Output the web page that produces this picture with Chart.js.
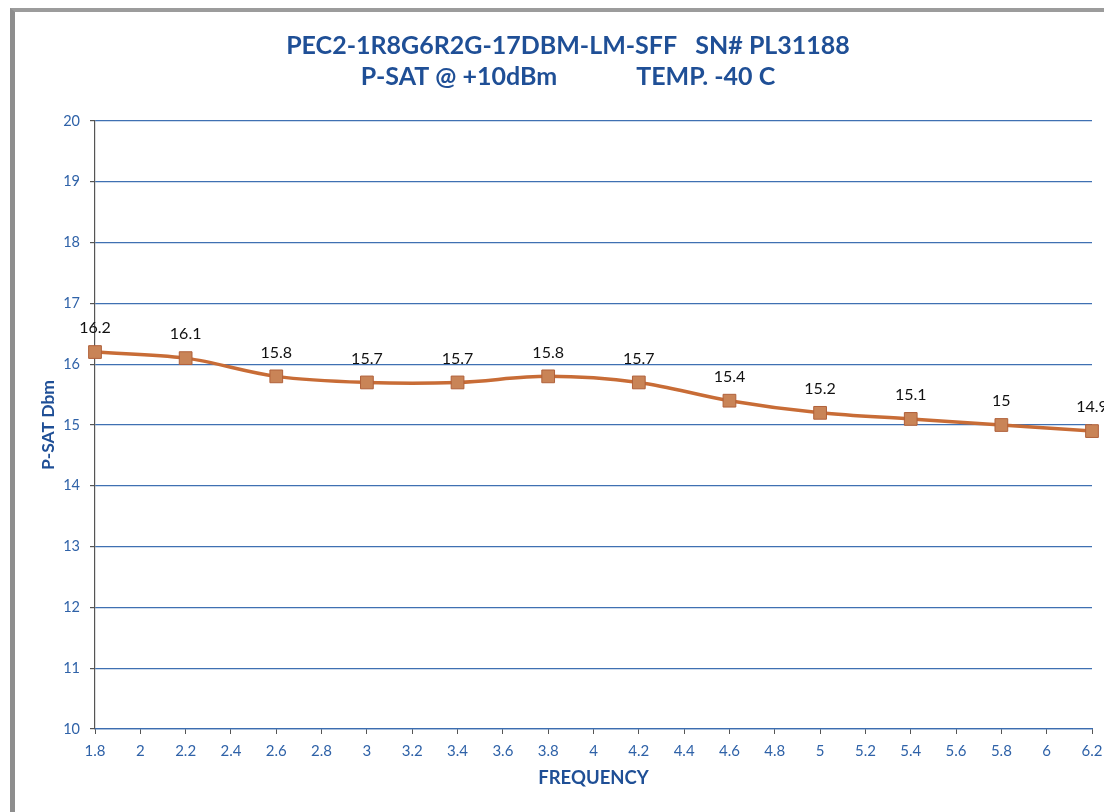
<!DOCTYPE html>
<html lang="en">
<head>
    <meta charset="UTF-8">
    <title>P-SAT vs Frequency</title>
    <script src="https://cdn.jsdelivr.net/npm/chart.js"></script>
    <style>
        html, body {
            margin: 0;
            padding: 0;
            background: #ffffff;
            width: 1104px;
            height: 812px;
            overflow: hidden;
        }
        #frame {
            position: absolute;
            left: 10px;
            top: 8px;
            width: 1200px;
            height: 820px;
            border-left: 5px solid #8e8e8e;
            border-top: 4px solid #9c9c9c;
        }
        #chart-box {
            position: absolute;
            left: 0;
            top: 0;
            width: 1106px;
            height: 800px;
        }
    </style>
</head>
<body>
    <div id="frame">
        <div id="chart-box"><canvas id="psatChart"></canvas></div>
    </div>

    <script>
        // frequency (GHz) and measured P-SAT (dBm)
        const frequencies = [1.8, 2.2, 2.6, 3.0, 3.4, 3.8, 4.2, 4.6, 5.0, 5.4, 5.8, 6.2];
        const psatValues = [16.2, 16.1, 15.8, 15.7, 15.7, 15.8, 15.7, 15.4, 15.2, 15.1, 15, 14.9];
        const xTicks = [1.8, 2, 2.2, 2.4, 2.6, 2.8, 3, 3.2, 3.4, 3.6, 3.8, 4, 4.2, 4.4, 4.6, 4.8, 5, 5.2, 5.4, 5.6, 5.8, 6, 6.2];
        const yTicks = [10, 11, 12, 13, 14, 15, 16, 17, 18, 19, 20];

        const blue = '#1f4f96';
        const tickBlue = '#2f62a8';
        const fontFamily = 'Lato, "Open Sans", sans-serif';

        // values written above each point, like Excel data labels
        const pointLabels = {
            id: 'pointLabels',
            afterDatasetsDraw(chart) {
                const ctx = chart.ctx;
                const meta = chart.getDatasetMeta(0);
                ctx.save();
                ctx.font = '16px ' + fontFamily;
                ctx.fillStyle = '#111111';
                ctx.textAlign = 'center';
                ctx.textBaseline = 'middle';
                meta.data.forEach((pt, i) => {
                    ctx.fillText(String(psatValues[i]), pt.x, pt.y - 24);
                });
                ctx.restore();
            }
        };

        const ctx = document.getElementById('psatChart').getContext('2d');
        new Chart(ctx, {
            type: 'line',
            data: {
                datasets: [{
                    label: 'P-SAT',
                    data: frequencies.map((f, i) => ({ x: f, y: psatValues[i] })),
                    borderColor: '#c86c36',
                    borderWidth: 3.5,
                    tension: 0.35,
                    pointStyle: 'rect',
                    pointRadius: 9,
                    pointBackgroundColor: '#c98457',
                    pointBorderColor: '#b0603a',
                    pointBorderWidth: 1,
                    clip: false
                }]
            },
            options: {
                responsive: true,
                maintainAspectRatio: false,
                animation: false,
                // left padding keeps the title centred like the original sheet
                layout: { padding: { left: 29, right: 29, top: 0, bottom: 0 } },
                plugins: {
                    legend: { display: false },
                    tooltip: { enabled: false },
                    title: {
                        display: true,
                        text: ['PEC2-1R8G6R2G-17DBM-LM-SFF   SN# PL31188', 'P-SAT @ +10dBm             TEMP. -40 C'],
                        color: blue,
                        font: { family: fontFamily, size: 25, weight: 'bold', lineHeight: 1.26 },
                        padding: { top: 18, bottom: 28 }
                    }
                },
                scales: {
                    x: {
                        type: 'linear',
                        min: 1.8,
                        max: 6.2,
                        afterBuildTicks(scale) {
                            scale.ticks = xTicks.map(v => ({ value: v }));
                        },
                        afterFit(scale) {
                            scale.height = 83;
                        },
                        border: { display: true, color: '#3c6db0', width: 1.2 },
                        grid: {
                            drawOnChartArea: false,
                            drawTicks: true,
                            tickLength: 5,
                            tickColor: '#555555'
                        },
                        ticks: {
                            autoSkip: false,
                            maxRotation: 0,
                            padding: 8,
                            color: tickBlue,
                            font: { family: fontFamily, size: 15 },
                            callback: v => String(Math.round(v * 10) / 10)
                        },
                        title: {
                            display: true,
                            text: 'FREQUENCY',
                            color: blue,
                            font: { family: fontFamily, size: 18.5, weight: 'bold' },
                            padding: { top: 0, bottom: 23 }
                        }
                    },
                    y: {
                        min: 10,
                        max: 20,
                        afterBuildTicks(scale) {
                            scale.ticks = yTicks.map(v => ({ value: v }));
                        },
                        afterFit(scale) {
                            scale.width = 51;
                        },
                        border: { display: true, color: '#555555', width: 1.2 },
                        grid: {
                            color: '#3f70b2',
                            lineWidth: 1.2,
                            drawTicks: true,
                            tickLength: 5,
                            tickColor: '#555555'
                        },
                        ticks: {
                            padding: 10,
                            color: tickBlue,
                            font: { family: fontFamily, size: 14.5 }
                        },
                        title: {
                            display: true,
                            text: 'P-SAT Dbm',
                            color: blue,
                            font: { family: fontFamily, size: 17.5, weight: 'bold', lineHeight: '8px' },
                            padding: { top: 0, bottom: 0 }
                        }
                    }
                }
            },
            plugins: [pointLabels]
        });
    </script>
</body>
</html>
